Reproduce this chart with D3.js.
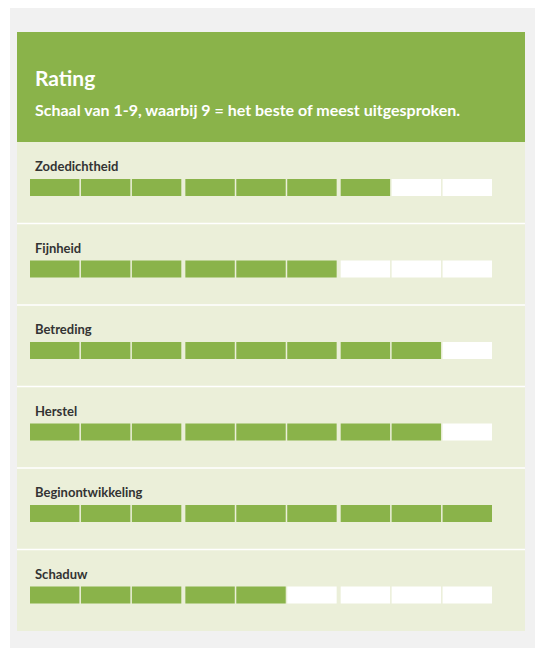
<!DOCTYPE html>
<html>
<head>
<meta charset="utf-8">
<script src="https://cdn.jsdelivr.net/npm/d3@7"></script>
<style>
  html, body { margin: 0; padding: 0; background: #ffffff; }
  svg { display: block; font-family: Lato, "Open Sans", sans-serif; }
</style>
</head>
<body>
<svg id="chart"></svg>
<script>
// chart data
const title = "Rating";
const subtitle = "Schaal van 1-9, waarbij 9 = het beste of meest uitgesproken.";
const categories = ["Zodedichtheid", "Fijnheid", "Betreding", "Herstel", "Beginontwikkeling", "Schaduw"];
const ratings = [7, 6, 8, 8, 9, 5];
const maxRating = 9;
const groups = [0, 1, 2];
const perGroup = [0, 1, 2];

const width = 535, height = 648;
const green = "#8ab34a", panel = "#ebefd9", outer = "#f1f1f1";

const svg = d3.select("#chart")
    .attr("width", width)
    .attr("height", height);

// outer grey frame
svg.append("rect")
    .attr("x", 10).attr("y", 8)
    .attr("width", 525).attr("height", 640)
    .attr("fill", outer);

// header block
svg.append("rect")
    .attr("x", 17).attr("y", 32)
    .attr("width", 508).attr("height", 110)
    .attr("fill", green);

svg.append("text")
    .attr("x", 35).attr("y", 86)
    .attr("fill", "#ffffff")
    .style("font-size", "21px")
    .style("font-weight", "bold")
    .text(title);

svg.append("text")
    .attr("x", 35).attr("y", 116)
    .attr("fill", "#ffffff")
    .style("font-size", "16px")
    .style("font-weight", "bold")
    .text(subtitle);

// body panel
svg.append("rect")
    .attr("x", 17).attr("y", 142)
    .attr("width", 508).attr("height", 489)
    .attr("fill", panel);

// scales
const y = d3.scaleBand()
    .domain(categories)
    .range([142, 631])
    .padding(0);

const xGroup = d3.scaleBand()
    .domain(groups)
    .range([30, 492])
    .paddingInner(0.026);

const xSeg = d3.scaleBand()
    .domain(perGroup)
    .range([0, xGroup.bandwidth()])
    .paddingInner(0.03);

const segX = i => xGroup(Math.floor(i / 3)) + xSeg(i % 3);

const rows = svg.append("g")
    .attr("class", "rows")
    .selectAll("g")
    .data(categories.map((c, i) => ({name: c, value: ratings[i]})))
    .join("g")
    .attr("transform", d => `translate(0,${y(d.name)})`);

// separators between rows
rows.filter((d, i) => i > 0)
    .append("line")
    .attr("x1", 17).attr("x2", 525)
    .attr("y1", 0).attr("y2", 0)
    .attr("stroke", "#ffffff")
    .attr("stroke-width", 1.5);

rows.append("text")
    .attr("x", 35)
    .attr("y", 29)
    .attr("fill", "#333333")
    .style("font-size", "13px")
    .style("font-weight", "bold")
    .text(d => d.name);

rows.selectAll("rect.seg")
    .data(d => d3.range(maxRating).map(i => ({i, on: i < d.value})))
    .join("rect")
    .attr("class", "seg")
    .attr("x", d => segX(d.i))
    .attr("y", 37)
    .attr("width", xSeg.bandwidth())
    .attr("height", 17)
    .attr("fill", d => d.on ? green : "#ffffff");
</script>
</body>
</html>
